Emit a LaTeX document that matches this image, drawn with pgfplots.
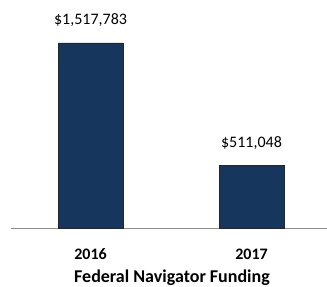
\documentclass[border=0pt]{standalone}
\usepackage{fontspec}
\setmainfont{Carlito}
\usepackage{pgfplots}
\pgfplotsset{compat=1.18}
\definecolor{navy}{HTML}{17365D}
\definecolor{basegray}{HTML}{8C8C8C}
\begin{document}
\begin{tikzpicture}
\useasboundingbox (0,0) rectangle (327bp,287bp);
\clip (0,0) rectangle (327bp,287bp);
\begin{axis}[
  at={(11bp,59bp)}, anchor=south west,
  scale only axis, width=316bp, height=228bp,
  xmin=-0.494, xmax=1.469,
  ymin=0, ymax=1870560,
  axis x line*=bottom, axis y line=none,
  x axis line style={draw=basegray, line width=1pt, -},
  xtick=data, xticklabels={\textbf{2016},\textbf{2017}},
  xtick style={draw=none},
  x tick label style={font=\fontsize{16bp}{19bp}\selectfont, anchor=base, yshift=-27.7bp, inner sep=0pt},
  ybar, bar width=65bp,
  nodes near coords,
  point meta=explicit symbolic,
  every node near coord/.append style={font=\fontsize{16bp}{19bp}\selectfont, anchor=base, inner sep=0pt, yshift=18.5bp},
  clip=false,
]
\addplot[fill=navy, draw=black!85, line width=0.8pt] coordinates {
  (0,1517783) [\$1,517,783]
  (1,511048) [\$511,048]
};
\end{axis}
\node[anchor=base, inner sep=0pt, font=\fontsize{18bp}{21bp}\selectfont\bfseries] at (172bp,4.2bp) {Federal Navigator Funding};
\end{tikzpicture}
\end{document}
